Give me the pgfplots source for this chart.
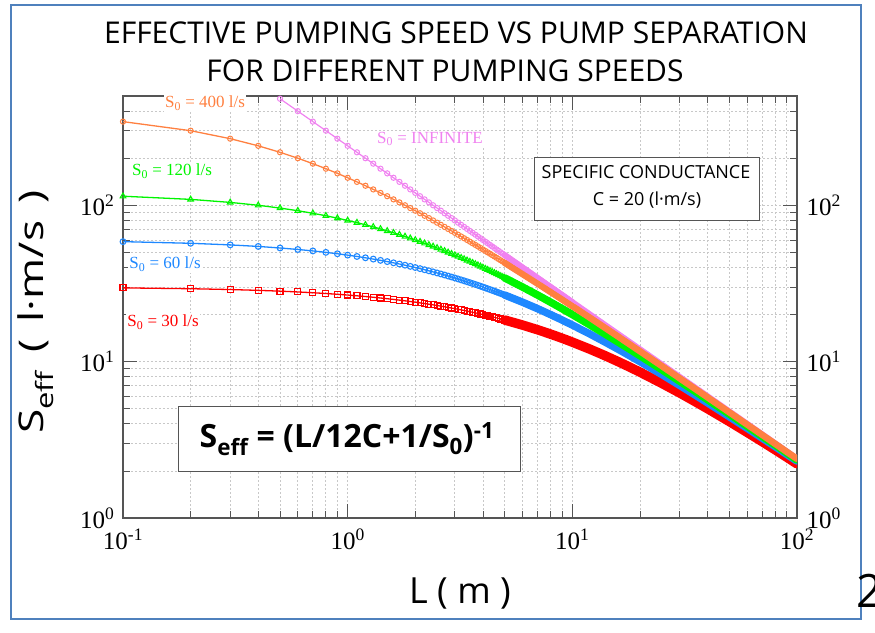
\documentclass[border=0pt]{standalone}
\usepackage{fontspec}
\setmainfont{Liberation Serif}
\newfontfamily\comic{Open Sans}
\usepackage{pgfplots}
\pgfplotsset{compat=1.18}
\usepackage{pgfplotstable}
\definecolor{slideblue}{RGB}{79,129,189}
\definecolor{cred}{RGB}{255,0,0}
\definecolor{cblue}{RGB}{30,136,255}
\definecolor{cgreen}{RGB}{0,245,0}
\definecolor{corange}{RGB}{255,128,64}
\definecolor{cmag}{RGB}{240,130,240}
\definecolor{axgray}{RGB}{85,85,85}
\definecolor{gridgray}{RGB}{200,200,200}

\pgfplotstableread{
L s30 s60 s120 s400
0.1 29.63 58.54 114.29 342.86
0.2 29.27 57.14 109.09 300.00
0.3 28.92 55.81 104.35 266.67
0.4 28.57 54.55 100.00 240.00
0.5 28.24 53.33 96.00 218.18
0.6 27.91 52.17 92.31 200.00
0.7 27.59 51.06 88.89 184.62
0.8 27.27 50.00 85.71 171.43
0.9 26.97 48.98 82.76 160.00
1.0 26.67 48.00 80.00 150.00
1.1 26.37 47.06 77.42 141.18
1.2 26.09 46.15 75.00 133.33
1.3 25.81 45.28 72.73 126.32
1.4 25.53 44.44 70.59 120.00
1.5 25.26 43.64 68.57 114.29
1.6 25.00 42.86 66.67 109.09
1.7 24.74 42.11 64.86 104.35
1.8 24.49 41.38 63.16 100.00
1.9 24.24 40.68 61.54 96.00
2.0 24.00 40.00 60.00 92.31
2.1 23.76 39.34 58.54 88.89
2.2 23.53 38.71 57.14 85.71
2.3 23.30 38.10 55.81 82.76
2.4 23.08 37.50 54.55 80.00
2.5 22.86 36.92 53.33 77.42
2.6 22.64 36.36 52.17 75.00
2.7 22.43 35.82 51.06 72.73
2.8 22.22 35.29 50.00 70.59
2.9 22.02 34.78 48.98 68.57
3.0 21.82 34.29 48.00 66.67
3.1 21.62 33.80 47.06 64.86
3.2 21.43 33.33 46.15 63.16
3.3 21.24 32.88 45.28 61.54
3.4 21.05 32.43 44.44 60.00
3.5 20.87 32.00 43.64 58.54
3.6 20.69 31.58 42.86 57.14
3.7 20.51 31.17 42.11 55.81
3.8 20.34 30.77 41.38 54.55
3.9 20.17 30.38 40.68 53.33
4.0 20.00 30.00 40.00 52.17
4.1 19.83 29.63 39.34 51.06
4.2 19.67 29.27 38.71 50.00
4.3 19.51 28.92 38.10 48.98
4.4 19.35 28.57 37.50 48.00
4.5 19.20 28.24 36.92 47.06
4.6 19.05 27.91 36.36 46.15
4.7 18.90 27.59 35.82 45.28
4.8 18.75 27.27 35.29 44.44
4.9 18.60 26.97 34.78 43.64
5.0 18.46 26.67 34.29 42.86
5.1 18.32 26.37 33.80 42.11
5.2 18.18 26.09 33.33 41.38
5.3 18.05 25.81 32.88 40.68
5.4 17.91 25.53 32.43 40.00
5.5 17.78 25.26 32.00 39.34
5.6 17.65 25.00 31.58 38.71
5.7 17.52 24.74 31.17 38.10
5.8 17.39 24.49 30.77 37.50
5.9 17.27 24.24 30.38 36.92
6.0 17.14 24.00 30.00 36.36
6.1 17.02 23.76 29.63 35.82
6.2 16.90 23.53 29.27 35.29
6.3 16.78 23.30 28.92 34.78
6.4 16.67 23.08 28.57 34.29
6.5 16.55 22.86 28.24 33.80
6.6 16.44 22.64 27.91 33.33
6.7 16.33 22.43 27.59 32.88
6.8 16.22 22.22 27.27 32.43
6.9 16.11 22.02 26.97 32.00
7.0 16.00 21.82 26.67 31.58
7.1 15.89 21.62 26.37 31.17
7.2 15.79 21.43 26.09 30.77
7.3 15.69 21.24 25.81 30.38
7.4 15.58 21.05 25.53 30.00
7.5 15.48 20.87 25.26 29.63
7.6 15.38 20.69 25.00 29.27
7.7 15.29 20.51 24.74 28.92
7.8 15.19 20.34 24.49 28.57
7.9 15.09 20.17 24.24 28.24
8.0 15.00 20.00 24.00 27.91
8.1 14.91 19.83 23.76 27.59
8.2 14.81 19.67 23.53 27.27
8.3 14.72 19.51 23.30 26.97
8.4 14.63 19.35 23.08 26.67
8.5 14.55 19.20 22.86 26.37
8.6 14.46 19.05 22.64 26.09
8.7 14.37 18.90 22.43 25.81
8.8 14.29 18.75 22.22 25.53
8.9 14.20 18.60 22.02 25.26
9.0 14.12 18.46 21.82 25.00
9.1 14.04 18.32 21.62 24.74
9.2 13.95 18.18 21.43 24.49
9.3 13.87 18.05 21.24 24.24
9.4 13.79 17.91 21.05 24.00
9.5 13.71 17.78 20.87 23.76
9.6 13.64 17.65 20.69 23.53
9.7 13.56 17.52 20.51 23.30
9.8 13.48 17.39 20.34 23.08
9.9 13.41 17.27 20.17 22.86
10.0 13.33 17.14 20.00 22.64
}\tabA

\pgfplotstableread{
L sinf
0.5 480.00
0.6 400.00
0.7 342.86
0.8 300.00
0.9 266.67
1.0 240.00
1.1 218.18
1.2 200.00
1.3 184.62
1.4 171.43
1.5 160.00
1.6 150.00
1.7 141.18
1.8 133.33
1.9 126.32
2.0 120.00
2.1 114.29
2.2 109.09
2.3 104.35
2.4 100.00
2.5 96.00
2.6 92.31
2.7 88.89
2.8 85.71
2.9 82.76
3.0 80.00
3.1 77.42
3.2 75.00
3.3 72.73
3.4 70.59
3.5 68.57
3.6 66.67
3.7 64.86
3.8 63.16
3.9 61.54
4.0 60.00
4.1 58.54
4.2 57.14
4.3 55.81
4.4 54.55
4.5 53.33
4.6 52.17
4.7 51.06
4.8 50.00
4.9 48.98
5.0 48.00
5.1 47.06
5.2 46.15
5.3 45.28
5.4 44.44
5.5 43.64
5.6 42.86
5.7 42.11
5.8 41.38
5.9 40.68
6.0 40.00
6.1 39.34
6.2 38.71
6.3 38.10
6.4 37.50
6.5 36.92
6.6 36.36
6.7 35.82
6.8 35.29
6.9 34.78
7.0 34.29
7.1 33.80
7.2 33.33
7.3 32.88
7.4 32.43
7.5 32.00
7.6 31.58
7.7 31.17
7.8 30.77
7.9 30.38
8.0 30.00
8.1 29.63
8.2 29.27
8.3 28.92
8.4 28.57
8.5 28.24
8.6 27.91
8.7 27.59
8.8 27.27
8.9 26.97
9.0 26.67
9.1 26.37
9.2 26.09
9.3 25.81
9.4 25.53
9.5 25.26
9.6 25.00
9.7 24.74
9.8 24.49
9.9 24.24
10.0 24.00
}\tabInf

\pgfplotstableread{
L s30 s60 s120 s400 sinf
5 18.46 26.67 34.29 42.86 48.00
6 17.14 24.00 30.00 36.36 40.00
7 16.00 21.82 26.67 31.58 34.29
8 15.00 20.00 24.00 27.91 30.00
9 14.12 18.46 21.82 25.00 26.67
10 13.33 17.14 20.00 22.64 24.00
12 12.00 15.00 17.14 19.05 20.00
14 10.91 13.33 15.00 16.44 17.14
16 10.00 12.00 13.33 14.46 15.00
18 9.23 10.91 12.00 12.90 13.33
20 8.57 10.00 10.91 11.65 12.00
25 7.27 8.28 8.89 9.38 9.60
30 6.32 7.06 7.50 7.84 8.00
35 5.58 6.15 6.49 6.74 6.86
40 5.00 5.45 5.71 5.91 6.00
50 4.14 4.44 4.62 4.74 4.80
60 3.53 3.75 3.87 3.96 4.00
70 3.08 3.24 3.33 3.40 3.43
80 2.73 2.86 2.93 2.98 3.00
90 2.45 2.55 2.61 2.65 2.67
100 2.22 2.31 2.35 2.39 2.40
}\tabB

\begin{document}
\begin{tikzpicture}[x=1pt,y=1pt]
\path[use as bounding box] (0,0) rectangle (875,632);
\draw[slideblue, line width=2pt] (11,13) rectangle (861,627);
\node[font=\comic\fontsize{30}{36}\selectfont] at (456,599) {EFFECTIVE PUMPING SPEED VS PUMP SEPARATION};
\node[font=\comic\fontsize{30}{36}\selectfont] at (445,561) {FOR DIFFERENT PUMPING SPEEDS};

\begin{axis}[
  at={(123pt,114pt)}, anchor=south west,
  scale only axis, width=674pt, height=422pt,
  xmode=log, ymode=log,
  xmin=0.1, xmax=100, ymin=1, ymax=500,
  xtick={0.1,1,10,100},
  xticklabels={10\textsuperscript{-1},10\textsuperscript{0},10\textsuperscript{1},10\textsuperscript{2}},
  ytick={1,10,100},
  yticklabels={10\textsuperscript{0},10\textsuperscript{1},10\textsuperscript{2}},
  minor xtick={0.2,0.3,0.4,0.5,0.6,0.7,0.8,0.9,2,3,4,5,6,7,8,9,20,30,40,50,60,70,80,90},
  minor ytick={2,3,4,5,6,7,8,9,20,30,40,50,60,70,80,90,200,300,400},
  grid=both,
  major grid style={gridgray, dash pattern=on 2pt off 2pt, line width=0.8pt},
  minor grid style={gridgray, dash pattern=on 2pt off 2pt, line width=0.8pt},
  tick align=inside, tick pos=both,
  major tick length=14pt, minor tick length=7pt,
  tick style={axgray, line width=0.8pt},
  axis line style={axgray, line width=1.2pt},
  ticklabel style={font=\fontsize{25}{25}\selectfont, text=black},
  xticklabel style={yshift=-7pt},
  yticklabel style={xshift=-5pt},
]
\addplot[draw=cmag, line width=6pt, line join=round, line cap=round] table[x=L,y=sinf] \tabB;
\addplot[draw=cmag, line width=1.2pt, mark=o, mark size=2.6pt, mark options={line width=1pt}] table[x=L,y=sinf] \tabInf;
\addplot[draw=cred, line width=9.5pt, line join=round, line cap=round] table[x=L,y=s30] \tabB;
\addplot[draw=cred, line width=1.3pt, mark=square, mark size=3pt, mark options={line width=1.1pt}] table[x=L,y=s30] \tabA;
\addplot[draw=cblue, line width=7.5pt, line join=round, line cap=round] table[x=L,y=s60] \tabB;
\addplot[draw=cblue, line width=1.3pt, mark=o, mark size=2.9pt, mark options={line width=1.1pt}] table[x=L,y=s60] \tabA;
\addplot[draw=cgreen, line width=7.5pt, line join=round, line cap=round] table[x=L,y=s120] \tabB;
\addplot[draw=cgreen, line width=1.3pt, mark=triangle, mark size=3.2pt, mark options={line width=1.1pt}] table[x=L,y=s120] \tabA;
\addplot[draw=corange, line width=6.5pt, line join=round, line cap=round] table[x=L,y=s400] \tabB;
\addplot[draw=corange, line width=1.3pt, mark=o, mark size=2.6pt, mark options={line width=1pt}] table[x=L,y=s400] \tabA;
\end{axis}

\begin{axis}[
  at={(123pt,114pt)}, anchor=south west,
  scale only axis, width=674pt, height=422pt,
  xmode=log, ymode=log,
  xmin=0.1, xmax=100, ymin=1, ymax=500,
  hide x axis, axis y line*=right,
  ytick={1,10,100},
  yticklabels={10\textsuperscript{0},10\textsuperscript{1},10\textsuperscript{2}},
  minor ytick={},
  axis line style={draw=none},
  tick style={draw=none},
  ticklabel style={font=\fontsize{25}{25}\selectfont, text=black},
  yticklabel style={xshift=6pt},
]
\end{axis}

\node[font=\fontsize{17}{17}\selectfont, text=corange, fill=white, inner sep=1.5pt] at (205,529) {S\textsubscript{0} = 400 l/s};
\node[font=\fontsize{17}{17}\selectfont, text=cmag, fill=white, inner sep=1.5pt] at (430,493) {S\textsubscript{0} = INFINITE};
\node[font=\fontsize{17}{17}\selectfont, text=cgreen, fill=white, inner sep=1.5pt] at (172,461) {S\textsubscript{0} = 120 l/s};
\node[font=\fontsize{17}{17}\selectfont, text=cblue, fill=white, inner sep=1.5pt] at (165,368) {S\textsubscript{0} = 60 l/s};
\node[font=\fontsize{17}{17}\selectfont, text=cred, fill=white, inner sep=1.5pt] at (163,310) {S\textsubscript{0} = 30 l/s};

\draw[axgray, line width=1pt, fill=white] (534,411) rectangle (759,474);
\node[font=\comic\fontsize{18}{20}\selectfont] at (646,460) {SPECIFIC CONDUCTANCE};
\node[font=\comic\fontsize{18}{20}\selectfont] at (647,432) {C = 20 (l·m/s)};

\draw[axgray, line width=1pt, fill=white] (178,160) rectangle (520,225);
\node[font=\comic\bfseries\fontsize{32}{36}\selectfont] at (347,193) {S\textsubscript{eff} = (L/12C+1/S\textsubscript{0})\textsuperscript{-1}};

\node[font=\comic\fontsize{36}{40}\selectfont] at (460,39) {L ( m )};
\node[rotate=90, font=\comic\fontsize{34}{40}\selectfont] at (36,320) {\scalebox{1.3}[1]{S\textsubscript{eff}\hspace{0.4em}(\hspace{0.4em}l·m/s\hspace{0.4em})}};
\node[font=\comic\fontsize{46}{50}\selectfont, anchor=west, inner sep=0pt] at (856,41) {2};
\end{tikzpicture}
\end{document}
